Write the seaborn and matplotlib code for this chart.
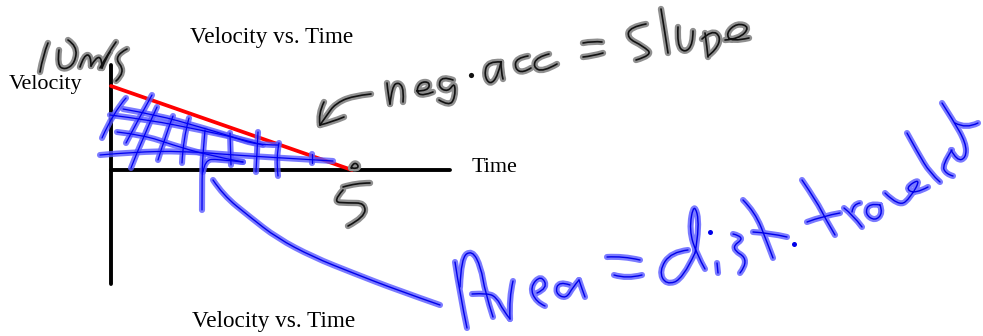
import pandas as pd
import seaborn as sns
import matplotlib.pyplot as plt
from matplotlib.path import Path
from matplotlib.patches import PathPatch

# the plotted line
time_values = [0, 5]
velocity_values = [10, 0]

# printed labels
title_text = 'Velocity vs. Time'
x_label = 'Time'
y_label = 'Velocity'

# handwriting on top of the chart, pen strokes (image pixels)
gray_ink = [
    # 10m/s
    [(48, 43), (43, 55), (40, 72)],
    [(59, 50), (57, 65), (65, 70), (75, 63), (77, 46), (68, 40)],
    [(80, 67), (84, 55), (91, 55), (91, 66)],
    [(91, 66), (96, 57), (102, 58), (102, 68)],
    [(102, 68), (107, 56), (110, 52)],
    [(116, 42), (107, 55), (100, 68)],
    [(127, 49), (113, 56), (126, 72), (116, 81)],
    # arrow
    [(371, 94), (352, 96), (335, 104), (327, 115), (320, 125)],
    [(324, 102), (318, 114), (320, 125)],
    [(320, 125), (332, 122), (344, 117)],
    # neg.acc = slope
    [(387, 83), (388, 94), (390, 104)],
    [(390, 104), (392, 86), (399, 82), (404, 90), (403, 102)],
    [(417, 91), (428, 91), (430, 82), (420, 82), (416, 92), (423, 96), (433, 92)],
    [(453, 80), (442, 76), (438, 87), (448, 92), (455, 82), (455, 98), (449, 106), (439, 100)],
    [(501, 62), (488, 61), (484, 75), (490, 85), (498, 76), (501, 62)],
    [(501, 62), (501, 72), (503, 79)],
    [(528, 56), (516, 58), (515, 69), (523, 73), (531, 68)],
    [(549, 54), (537, 57), (533, 67), (543, 72), (557, 64)],
    [(583, 43), (593, 41), (602, 42)],
    [(583, 57), (593, 56), (603, 53)],
    [(646, 24), (630, 27), (627, 38), (643, 46), (653, 55), (636, 60)],
    [(661, 9), (665, 33), (668, 53)],
    [(678, 27), (677, 45), (685, 53), (693, 44), (693, 31)],
    [(705, 33), (707, 47), (708, 57)],
    [(702, 39), (712, 30), (721, 37), (716, 50), (708, 56)],
    [(725, 40), (739, 39), (750, 27), (737, 23), (726, 33), (731, 42), (749, 38)],
    # 5 under the axis
    [(370, 183), (356, 183), (343, 187)],
    [(343, 190), (332, 202), (348, 203), (365, 203), (365, 217), (348, 226)],
    [(351, 168), (353, 163), (358, 164), (358, 169), (352, 168)],
]
blue_hatch = [
    [(126, 98), (113, 113), (102, 138)],
    [(152, 95), (138, 120), (126, 143)],
    [(157, 107), (143, 137), (131, 168)],
    [(173, 116), (165, 137), (158, 160)],
    [(189, 118), (183, 140), (182, 163)],
    [(205, 130), (203, 153), (202, 173), (202, 210)],
    [(230, 133), (231, 165)],
    [(258, 132), (256, 172)],
    [(279, 143), (276, 157), (278, 176)],
    [(312, 154), (312, 163)],
    [(123, 109), (157, 115), (200, 127), (233, 137), (257, 145), (278, 145)],
    [(110, 115), (150, 120), (200, 130), (233, 137), (263, 145)],
    [(117, 132), (143, 135), (173, 145), (207, 155), (243, 162)],
    [(100, 155), (133, 152), (183, 151), (233, 155), (283, 158), (333, 161)],
    [(203, 172), (205, 160), (217, 159), (243, 162)],
]
blue_ink = [
    # long arrow
    [(213, 180), (223, 195), (250, 217), (277, 238), (313, 257), (353, 273), (397, 290), (440, 305)],
    # Area
    [(455, 262), (460, 295), (467, 328)],
    [(460, 287), (461, 258), (472, 250), (481, 267), (485, 292), (493, 317)],
    [(472, 294), (488, 293), (497, 298), (503, 310), (510, 319)],
    [(513, 281), (509, 298), (510, 319)],
    [(537, 293), (548, 288), (541, 275), (530, 287), (536, 302), (545, 306)],
    [(570, 285), (559, 281), (555, 293), (566, 299), (573, 287), (579, 280)],
    [(579, 280), (582, 289), (585, 297)],
    # =
    [(607, 257), (623, 256), (640, 260)],
    [(614, 275), (627, 279), (642, 275)],
    # dist.
    [(688, 250), (671, 252), (659, 271), (666, 285), (683, 279), (695, 253)],
    [(695, 253), (700, 225), (694, 202), (689, 230), (697, 255), (705, 269)],
    [(717, 263), (718, 273)],
    [(733, 234), (746, 237), (730, 248), (750, 260), (740, 273)],
    [(743, 200), (755, 212), (767, 242), (773, 258)],
    [(753, 232), (770, 233), (787, 237)],
    # traveled
    [(802, 180), (817, 202), (825, 218), (835, 235)],
    [(807, 222), (823, 216), (840, 213)],
    [(844, 208), (853, 215), (862, 227)],
    [(852, 212), (853, 204), (860, 203)],
    [(880, 205), (869, 203), (865, 214), (875, 221), (883, 213), (880, 205)],
    [(885, 193), (899, 207), (911, 197), (921, 178), (905, 188), (915, 194), (928, 187)],
    [(907, 133), (918, 153), (930, 173), (940, 182)],
    [(952, 150), (942, 165), (946, 174), (953, 176)],
    [(942, 103), (953, 120), (966, 143), (966, 158), (957, 161), (951, 150)],
    [(955, 123), (966, 129), (978, 123)],
]
gray_dots = [(471, 75)]
blue_dots = [(794, 244), (710, 232)]

W, H = 983, 336


def pen_path(points):
    # smooth pen stroke: points are the control points of a quadratic spline
    if len(points) < 3:
        return Path(points)
    verts = [points[0]]
    codes = [Path.MOVETO]
    for i in range(1, len(points) - 1):
        ctrl = points[i]
        if i < len(points) - 2:
            end = ((points[i][0] + points[i + 1][0]) / 2, (points[i][1] + points[i + 1][1]) / 2)
        else:
            end = points[-1]
        verts += [ctrl, end]
        codes += [Path.CURVE3, Path.CURVE3]
    return Path(verts, codes)


def draw_ink(ax, strokes, halo, core, halo_w=4.0, core_w=1.2, alpha=1.0):
    for color, width, a in [(halo, halo_w, alpha), (core, core_w, 1.0)]:
        for s in strokes:
            ax.add_patch(PathPatch(pen_path(s), fill=False, edgecolor=color, lw=width, alpha=a,
                                   capstyle='round', joinstyle='round'))


sns.set_style('white')
plt.rcParams['font.family'] = ['Liberation Serif', 'DejaVu Serif']

fig = plt.figure(figsize=(W / 100, H / 100), dpi=100)

# chart axes: origin at pixel (111, 170), 5 s = 241 px, 10 m/s = 84 px
left, right, top, bottom = 111, 450, 65, 284
ax = fig.add_axes([left / W, 1 - bottom / H, (right - left) / W, (bottom - top) / H])
sns.lineplot(x=time_values, y=velocity_values, color='#ff0000', lw=2.7, ax=ax,
             solid_capstyle='round', zorder=5, clip_on=False)
ax.set_xlim(0, (right - left) / 48.2)
ax.set_ylim((170 - bottom) / 8.4, (170 - top) / 8.4)
ax.set_xlabel('')
ax.set_ylabel('')
ax.set_xticks([])
ax.set_yticks([])
ax.patch.set_alpha(0)
sns.despine(ax=ax)
ax.spines['bottom'].set_position(('data', 0))
for side in ['left', 'bottom']:
    ax.spines[side].set_color('black')
    ax.spines[side].set_linewidth(2.8)
    ax.spines[side].set_capstyle('round')

# overlay in image pixels for the labels and the handwriting
ink = fig.add_axes([0, 0, 1, 1])
ink.set_axis_off()
ink.patch.set_alpha(0)

draw_ink(ink, blue_hatch, '#5a5aff', '#0000f0', halo_w=4.4, core_w=0.9, alpha=0.8)
draw_ink(ink, blue_ink, '#7a7aff', '#0000e8', halo_w=4.4, core_w=1.0)
draw_ink(ink, gray_ink, '#8f8f8f', '#111111', halo_w=4.6, core_w=1.2)

sns.scatterplot(x=[p[0] for p in gray_dots], y=[p[1] for p in gray_dots], ax=ink,
                color='#111111', s=14, linewidth=0, legend=False)
sns.scatterplot(x=[p[0] for p in blue_dots], y=[p[1] for p in blue_dots], ax=ink,
                color='#0000e8', s=13, linewidth=0, legend=False)

ink.set_xlim(0, W)
ink.set_ylim(H, 0)

ink.text(272, 38, title_text, fontsize=16.7, ha='center', va='center', color='black')
ink.text(274, 321, title_text, fontsize=16.7, ha='center', va='center', color='black')
ink.text(45.5, 85, y_label, fontsize=15.9, ha='center', va='center', color='black')
ink.text(495, 167, x_label, fontsize=15.9, ha='center', va='center', color='black')

plt.savefig('out.png', dpi=100)
